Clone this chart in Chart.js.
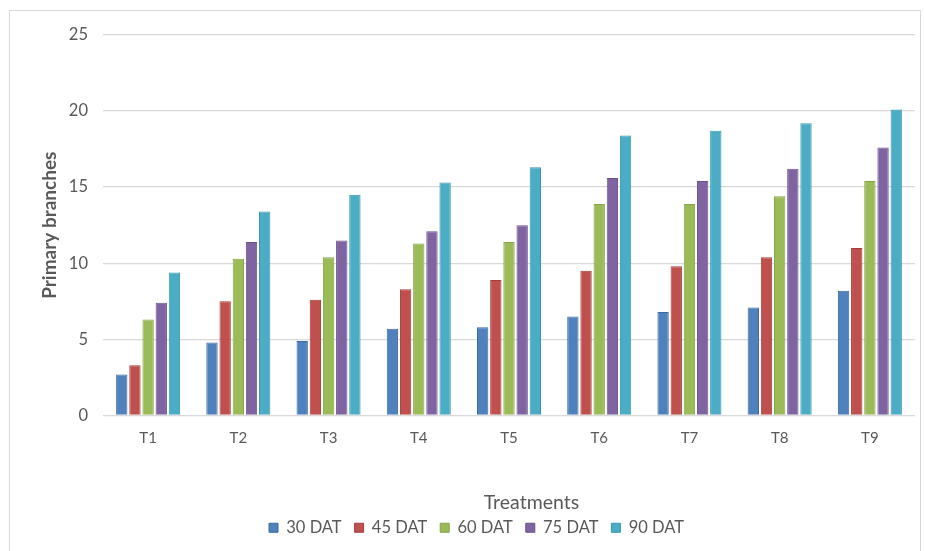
<!DOCTYPE html>
<html>
<head>
<meta charset="utf-8">
<script src="https://cdn.jsdelivr.net/npm/chart.js@4.4.1/dist/chart.umd.min.js"></script>
<style>
  html, body { margin: 0; padding: 0; background: #fff; }
  #box {
    position: absolute; left: 9px; top: 10px;
    width: 912px; height: 545px;
    border: 1px solid #d9d9d9; box-sizing: border-box;
  }
  #wrap { position: absolute; left: 9px; top: 10px; width: 912px; height: 541px; }
</style>
</head>
<body>
<div id="box"></div>
<div id="wrap"><canvas id="grafico"></canvas></div>
<script>
// Datos
const treatments = ['T1', 'T2', 'T3', 'T4', 'T5', 'T6', 'T7', 'T8', 'T9'];
const dat30 = [2.7, 4.8, 4.9, 5.7, 5.8, 6.5, 6.8, 7.1, 8.2];
const dat45 = [3.3, 7.5, 7.6, 8.3, 8.9, 9.5, 9.8, 10.4, 11.0];
const dat60 = [6.3, 10.3, 10.4, 11.3, 11.4, 13.9, 13.9, 14.4, 15.4];
const dat75 = [7.4, 11.4, 11.5, 12.1, 12.5, 15.6, 15.4, 16.2, 17.6];
const dat90 = [9.4, 13.4, 14.5, 15.3, 16.3, 18.4, 18.7, 19.2, 20.1];
const seriesLabels = ['30 DAT', '45 DAT', '60 DAT', '75 DAT', '90 DAT'];
const seriesColors = ['#4F81BD', '#C0504D', '#9BBB59', '#8064A2', '#4BACC6'];
const seriesBorders = ['#3A6AA3', '#A33D3A', '#84A446', '#6A518A', '#3896AF'];

const textColor = '#595959';
const fontFamily = 'Lato, "Open Sans", sans-serif';

const values = [dat30, dat45, dat60, dat75, dat90];

const datasets = values.map((v, i) => ({
    label: seriesLabels[i],
    data: v,
    backgroundColor: seriesColors[i],
    borderColor: seriesBorders[i],
    borderWidth: 1,
    barPercentage: 0.86,
    categoryPercentage: 0.73
}));

new Chart(document.getElementById('grafico').getContext('2d'), {
    type: 'bar',
    data: { labels: treatments, datasets: datasets },
    options: {
        responsive: true,
        maintainAspectRatio: false,
        animation: false,
        // padding izquierdo para centrar la leyenda como en el original
        layout: { padding: { top: 23, right: 6, left: 29, bottom: 5 } },
        plugins: {
            tooltip: { enabled: false },
            legend: {
                position: 'bottom',
                labels: {
                    color: textColor,
                    font: { family: fontFamily, size: 16.5 },
                    boxWidth: 9,
                    boxHeight: 9,
                    padding: 13
                }
            }
        },
        scales: {
            x: {
                grid: { display: false, drawTicks: false },
                border: { display: false },
                ticks: { color: textColor, font: { family: fontFamily, size: 15 }, padding: 14 },
                title: {
                    display: true,
                    text: '         Treatments',
                    color: textColor,
                    font: { family: fontFamily, size: 19.5 },
                    padding: { top: 0, bottom: -8 }
                },
                afterFit: (scale) => { scale.height = 91; }
            },
            y: {
                min: 0,
                max: 25,
                ticks: { stepSize: 5, color: textColor, font: { family: fontFamily, size: 16.5 }, padding: 15 },
                grid: { color: '#d9d9d9', lineWidth: 1.3, drawTicks: false },
                border: { display: false },
                title: {
                    display: true,
                    text: 'Primary branches',
                    color: textColor,
                    font: { family: fontFamily, size: 19, weight: 'bold' },
                    padding: { top: 0, bottom: 0 }
                },
                afterFit: (scale) => { scale.width = 65; }
            }
        }
    }
});
</script>
</body>
</html>
